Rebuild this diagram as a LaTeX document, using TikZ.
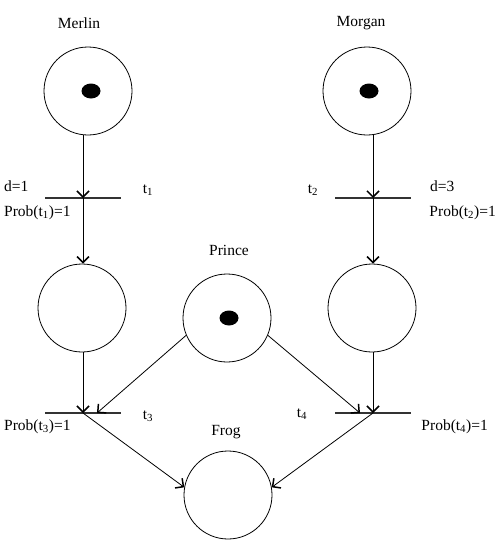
\documentclass[tikz,border=0pt]{standalone}
\usepackage{fontspec}
\setmainfont{Liberation Serif}
\usetikzlibrary{positioning,arrows.meta,calc,shapes.geometric}
\tikzset{
  place/.style={circle, draw, line width=0.8pt, minimum size=88pt, inner sep=0pt},
  transition/.style={rectangle, fill=black!80, minimum width=76pt, minimum height=1.2pt, inner sep=0pt},
  token/.style={ellipse, fill=black, minimum width=19pt, minimum height=15pt, inner sep=0pt},
  arc/.style={line width=0.8pt, -{Straight Barb[length=6pt,width=12pt,line width=1.5pt]}},
  lbl/.style={font=\fontsize{15.5}{18}\selectfont, inner sep=0pt}
}
\begin{document}
\begin{tikzpicture}[x=1pt, y=-1pt]
        \useasboundingbox (0,0) rectangle (498,546);
        % Places
        \node[place] (merlin) at (88,91) {};
        \node[place] (morgan) at (367,91) {};
        \node[place] (pl) at (82,308) {};
        \node[place] (pr) at (372,308) {};
        \node[place] (prince) at (227,318) {};
        \node[place] (frog) at (228,495) {};
        % Tokens
        \node[token] (tokmerlin) at (91,91) {};
        \node[token] (tokmorgan) at (369,91) {};
        \node[token] (tokprince) at (229,318) {};
        % Transitions
        \node[transition] (t1) at (83,198) {};
        \node[transition] (t2) at (373,198) {};
        \node[transition] (t3) at (83,413) {};
        \node[transition] (t4) at (373,413) {};
        % Place names
        \node[lbl] (lmerlin) at (79,23) {Merlin};
        \node[lbl] (lmorgan) at (361,23) {Morgan};
        \node[lbl] (lprince) at (229,250) {Prince};
        \node[lbl] (lfrog) at (226,432) {Frog};
        % Transition names and parameters
        \node[lbl] (lt1) at (148,190) {t\textsubscript{1}};
        \node[lbl] (lt2) at (313,190) {t\textsubscript{2}};
        \node[lbl] (lt3) at (148,416) {t\textsubscript{3}};
        \node[lbl] (lt4) at (302,414) {t\textsubscript{4}};
        \node[lbl, anchor=west] (d1) at (4,186) {d=1};
        \node[lbl, anchor=west] (pr1) at (4,213) {Prob(t\textsubscript{1})=1};
        \node[lbl, anchor=west] (d3) at (430,186) {d=3};
        \node[lbl, anchor=east] (pr2) at (496,213) {Prob(t\textsubscript{2})=1};
        \node[lbl, anchor=west] (pr3) at (4,427) {Prob(t\textsubscript{3})=1};
        \node[lbl, anchor=east] (pr4) at (488,427) {Prob(t\textsubscript{4})=1};
        % Arcs
        \draw[arc] (merlin.south -| t1) -- (t1.center);
        \draw[arc] (t1.center) -- (t1 |- pl.north);
        \draw[arc] (pl.south -| t3) -- (t3.center);
        \draw[arc] (morgan.south -| t2) -- (t2.center);
        \draw[arc] (t2.center) -- (t2 |- pr.north);
        \draw[arc] (pr.south -| t4) -- (t4.center);
        \draw[arc] (prince.203) -- ($(t3.center)+(14,0)$);
        \draw[arc] (prince.337) -- ($(t4.center)+(-13,0)$);
        \draw[arc] (t3.center) -- (frog.170);
        \draw[arc] (t4.center) -- (frog.10);
      \end{tikzpicture}
\end{document}
